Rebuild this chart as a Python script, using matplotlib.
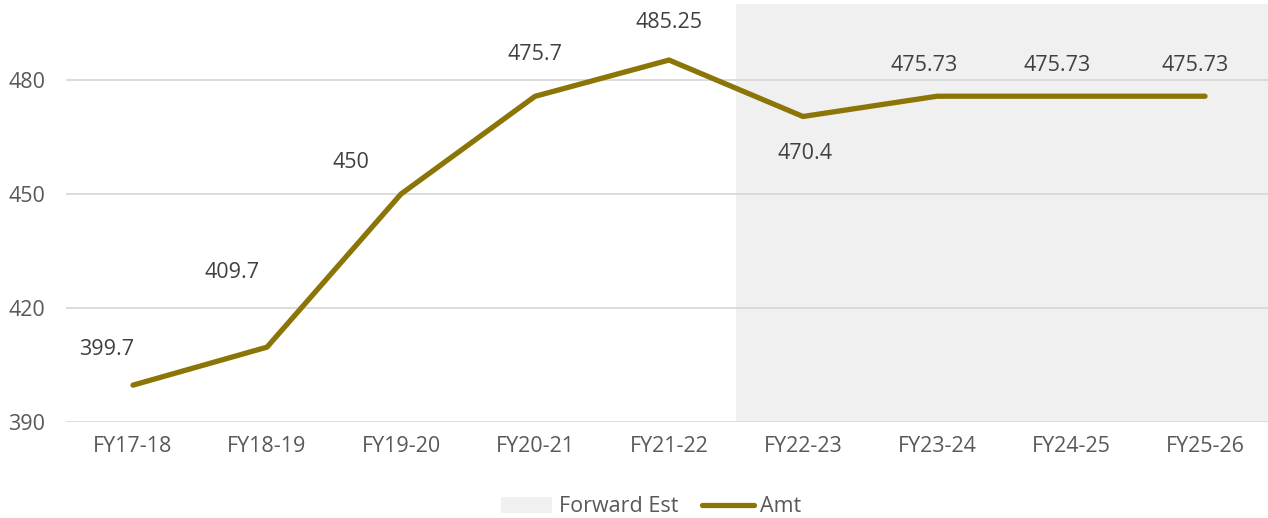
import matplotlib.pyplot as plt
from matplotlib.patches import Patch
from matplotlib.lines import Line2D

categories = ['FY17-18', 'FY18-19', 'FY19-20', 'FY20-21', 'FY21-22',
              'FY22-23', 'FY23-24', 'FY24-25', 'FY25-26']
amt = [399.7, 409.7, 450, 475.7, 485.25, 470.4, 475.73, 475.73, 475.73]
amt_labels = ['399.7', '409.7', '450', '475.7', '485.25', '470.4',
              '475.73', '475.73', '475.73']
# forward estimate band (full height bars)
forward_est = [0, 0, 0, 0, 0, 500, 500, 500, 500]

# label offsets in pixels (dx, dy)
offsets = [(-26, 36), (-35, 75), (-50, 32), (0, 42), (0, 38), (2, -37),
           (-13, 31), (-14, 31), (-10, 31)]

plt.rcParams['font.family'] = ['Open Sans', 'DejaVu Sans']
txt = '#595959'
line_col = '#8B7506'

fig = plt.figure(figsize=(12.68, 5.18), dpi=100)
W, H = 1268.0, 518.0
ax = fig.add_axes([66 / W, 1 - 422 / H, (1272 - 66) / W, (422 - 4) / H])

x = list(range(len(categories)))
ax.bar(x, [v - 390 if v else 0 for v in forward_est], bottom=390, width=1.0,
       color='#F0F0F0', zorder=0)
for yv in [390, 420, 450, 480]:
    ax.axhline(yv, color='#D9D9D9', lw=1.3, zorder=1)
ax.plot(x, amt, color=line_col, lw=3.8, solid_capstyle='round',
        solid_joinstyle='round', zorder=3)

for i, (v, lab) in enumerate(zip(amt, amt_labels)):
    dx, dy = offsets[i]
    ax.annotate(lab, (i, v), xytext=(dx * 0.72, dy * 0.72),
                textcoords='offset points', ha='center', va='center',
                fontsize=15.5, color='#404040')

ax.set_xlim(-0.5, 8.5)
ax.set_ylim(390, 500)
ax.set_yticks([390, 420, 450, 480])
ax.set_xticks(x)
ax.set_xticklabels(categories)
ax.tick_params(length=0, labelsize=15.5, labelcolor=txt)
ax.tick_params(axis='x', pad=10)
ax.tick_params(axis='y', pad=15)
for s in ax.spines.values():
    s.set_visible(False)

handles = [Patch(facecolor='#F0F0F0', edgecolor='none', label='Forward Est'),
           Line2D([0], [0], color=line_col, lw=3.8, solid_capstyle='round',
                  label='Amt')]
leg = fig.legend(handles=handles, loc='center', bbox_to_anchor=(651 / W, 1 - 507 / H),
                 ncol=2, frameon=False, fontsize=15.5, handlelength=2.4,
                 columnspacing=1.1, handletextpad=0.3)
for t in leg.get_texts():
    t.set_color(txt)

fig.savefig('out.png', dpi=100)
